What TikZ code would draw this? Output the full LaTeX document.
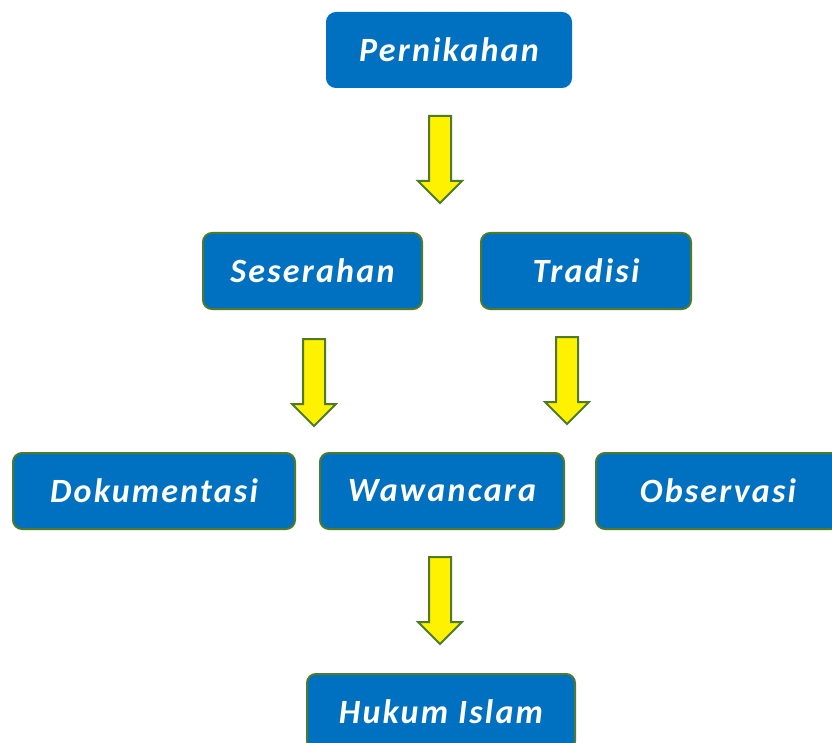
\documentclass[tikz,border=0pt]{standalone}
\usepackage{fontspec}
\setmainfont{Carlito}
\newfontfamily\boxfont[LetterSpace=6.5]{Carlito}
\definecolor{boxblue}{HTML}{0070C0}
\definecolor{boxgreen}{HTML}{4E7A2C}
\definecolor{arrowgreen}{HTML}{4F7B28}
\tikzset{
  box/.style={draw=boxgreen, line width=2pt, fill=boxblue, rounded corners=9pt,
    text=white, font=\boxfont\fontsize{34}{36}\selectfont\bfseries\itshape,
    inner sep=0pt, anchor=north west, minimum height=76pt},
  darrow/.pic={
    \draw[draw=arrowgreen, fill=yellow, line width=2pt, line join=miter]
      (-11,0) -- (11,0) -- (11,-65) -- (22,-65) -- (0,-87) -- (-22,-65) -- (-11,-65) -- cycle;
  }
}
\begin{document}
\begin{tikzpicture}[x=1pt,y=1pt]
\useasboundingbox (0,0) rectangle (832,-743);
\clip (0,0) rectangle (832,-743);
\node[box, draw=boxblue, minimum width=244pt, minimum height=74pt] (pern) at (326,-12) {Pernikahan};
\node[box, minimum width=219pt] (ses) at (202,-232) {Seserahan};
\node[box, minimum width=210pt] (trad) at (480,-232) {Tradisi};
\node[box, minimum width=282pt] (dok) at (12,-452) {Dokumentasi};
\node[box, minimum width=244pt] (waw) at (319,-452) {Wawancara};
\node[box, minimum width=244pt] (obs) at (595,-452) {Observasi};
\node[box, minimum width=268pt] (huk) at (306,-673) {Hukum Islam};
\coordinate (a1) at (440,-116);
\coordinate (a2) at (314,-339);
\coordinate (a3) at (567,-337);
\coordinate (a4) at (440,-557);
\pic at (a1) {darrow};
\pic at (a2) {darrow};
\pic at (a3) {darrow};
\pic at (a4) {darrow};
\end{tikzpicture}
\end{document}
